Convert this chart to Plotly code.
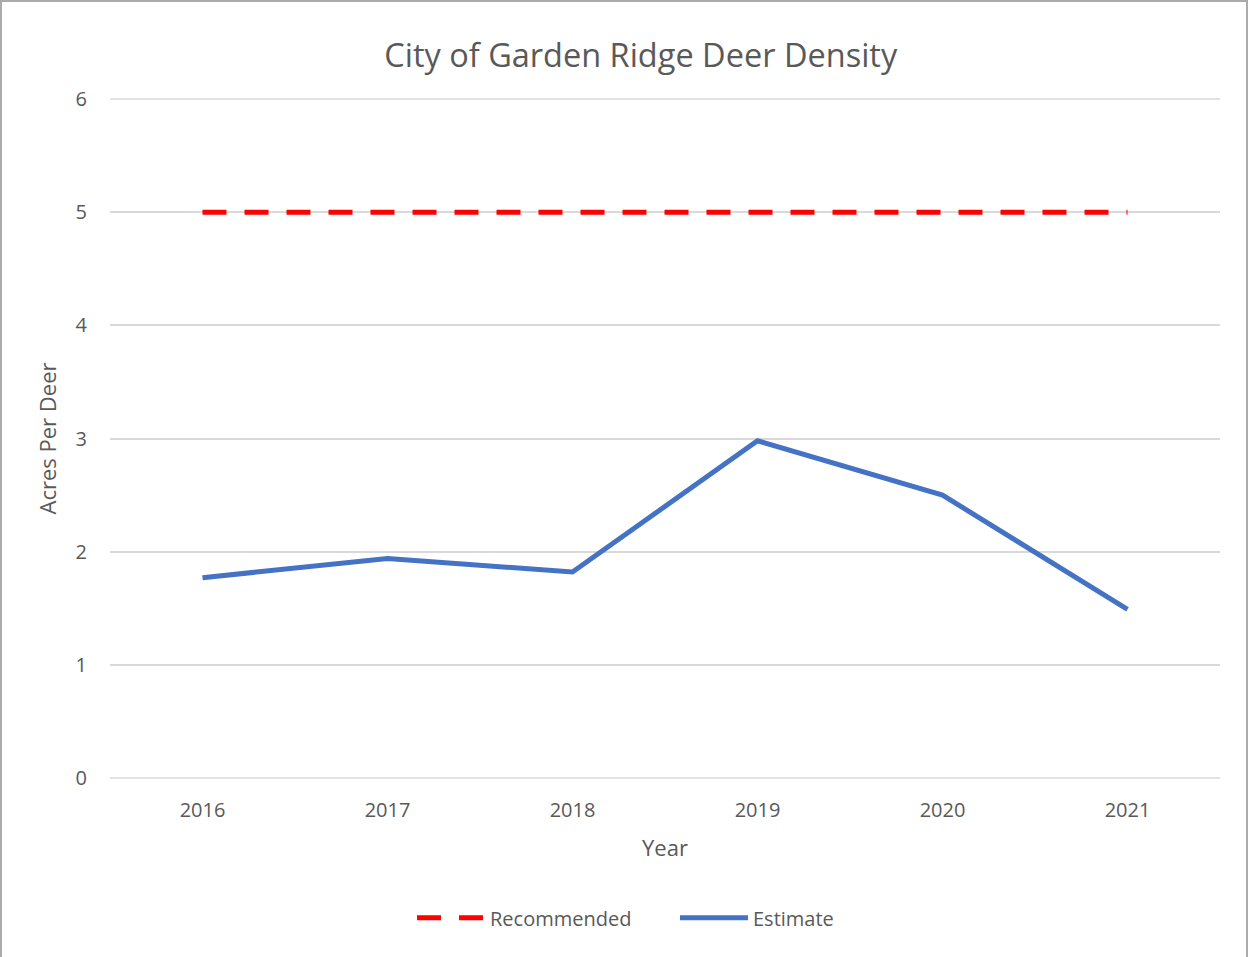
import plotly.graph_objects as go

years = ["2016", "2017", "2018", "2019", "2020", "2021"]
recommended = [5, 5, 5, 5, 5, 5]
estimate = [1.77, 1.94, 1.82, 2.98, 2.50, 1.49]

FONT = "Open Sans"
GREY = "#595959"

fig = go.Figure()
fig.add_trace(go.Scatter(x=years, y=recommended, mode="lines", name="Recommended",
                         line=dict(color="#FF0000", width=5, dash="24px,18px")))
fig.add_trace(go.Scatter(x=years, y=estimate, mode="lines", name="Estimate",
                         line=dict(color="#4472C4", width=5)))

fig.update_layout(
    width=1249, height=957,
    paper_bgcolor="white", plot_bgcolor="white",
    margin=dict(l=110, r=29, t=99, b=179),
    title=dict(text="City of Garden Ridge Deer Density", x=0.513, xanchor="center",
               y=0.942, yanchor="middle", font=dict(family=FONT, size=32.5, color=GREY)),
    font=dict(family=FONT, color=GREY, size=20),
    xaxis=dict(type="category", range=[-0.5, 5.5], showgrid=False, zeroline=False,
               showline=False, ticks="", tickfont=dict(size=20, color=GREY),
               ticklabelstandoff=18,
               title=dict(text="Year", font=dict(size=22, color=GREY), standoff=18)),
    yaxis=dict(range=[0, 6], dtick=1, showgrid=True, gridcolor="#D9D9D9", gridwidth=1.5,
               zeroline=False, showline=False, ticks="", tickfont=dict(size=20, color=GREY),
               ticklabelstandoff=22,
               title=dict(text="Acres Per Deer", font=dict(size=22, color=GREY), standoff=12)),
    legend=dict(orientation="h", x=(412 - 110) / 1110, xanchor="left", y=-0.206, yanchor="middle",
                font=dict(size=20, color=GREY), itemwidth=68, entrywidth=180),
    shapes=[dict(type="line", xref="paper", yref="paper", x0=0, x1=1, y0=0, y1=0,
                 line=dict(color="#D9D9D9", width=1.5)),
            dict(type="line", xref="paper", yref="paper", x0=0, x1=1, y0=1, y1=1,
                 line=dict(color="#D9D9D9", width=1.5)),
            dict(type="rect", xref="paper", yref="paper",
                 x0=-109/1110, x1=1+27/1110, y0=-180/679, y1=1+98/679,
                 line=dict(color="#AAAAAA", width=2))],
)
fig.write_html("out.html", post_script="document.body.style.margin='0';",
               config={"displayModeBar": False})
